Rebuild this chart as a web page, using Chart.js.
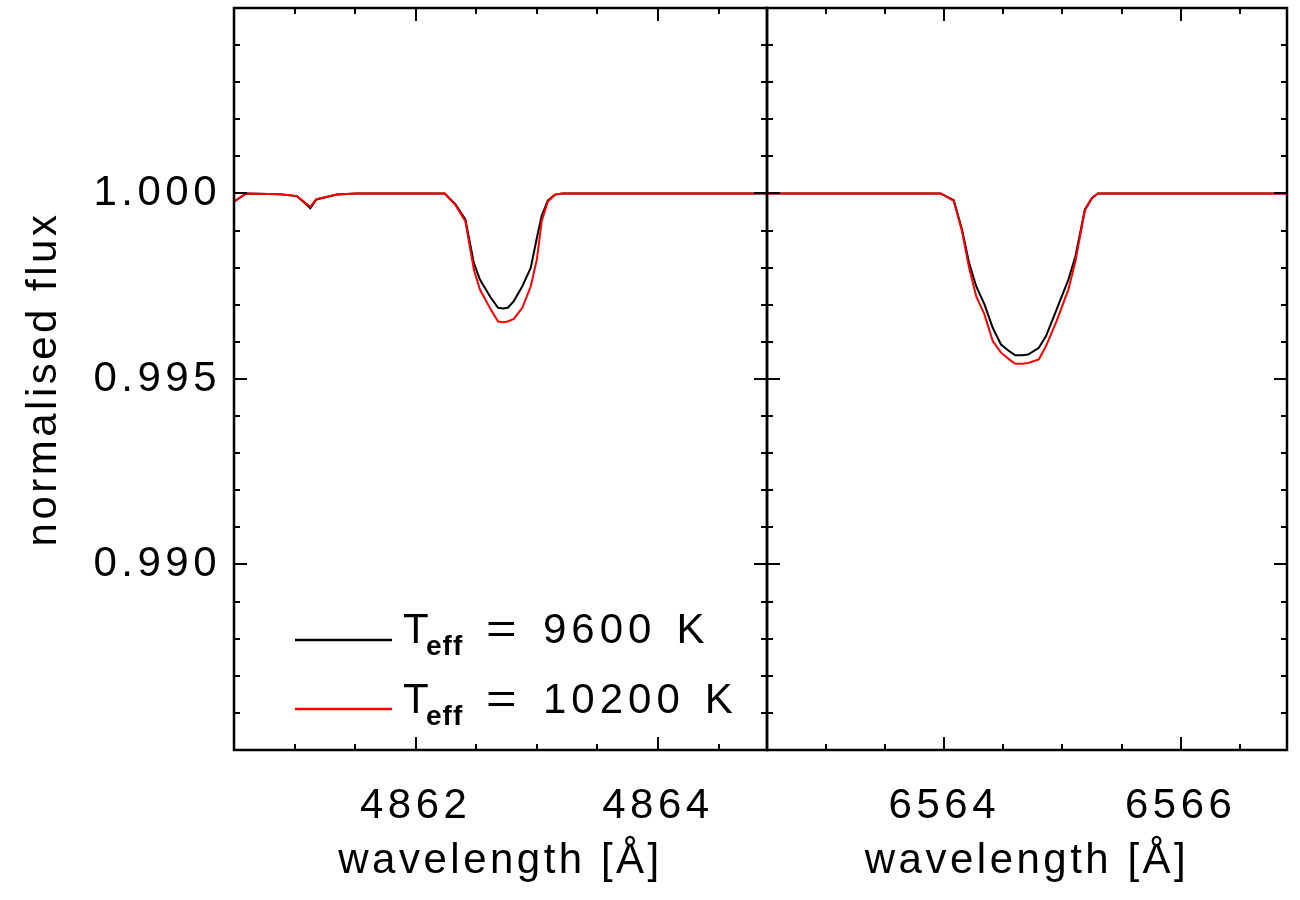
<!DOCTYPE html>
<html>
<head>
<meta charset="utf-8">
<script src="https://cdn.jsdelivr.net/npm/chart.js@4.4.1/dist/chart.umd.min.js"></script>
<style>
html,body{margin:0;padding:0;background:#fff;width:1300px;height:900px;overflow:hidden}
canvas{position:absolute;top:0}
#c1{left:0}
#c2{left:700px}
</style>
</head>
<body>
<canvas id="c1" width="800" height="900"></canvas>
<canvas id="c2" width="600" height="900"></canvas>
<script>
// ---- data ----
const hbetaWave = [4860.50, 4860.60, 4860.88, 4861.02, 4861.13, 4861.18, 4861.35, 4861.51, 4862.24, 4862.33, 4862.41, 4862.48, 4862.53, 4862.62, 4862.68, 4862.72, 4862.76, 4862.81, 4862.88, 4862.95, 4863.00, 4863.04, 4863.09, 4863.15, 4863.21, 4864.90];
const hbetaFlux9600 = [0.99978, 1.00000, 0.99998, 0.99993, 0.99960, 0.99984, 0.99997, 1.00000, 1.00000, 0.99970, 0.99930, 0.99813, 0.99768, 0.99719, 0.99692, 0.99690, 0.99692, 0.99710, 0.99750, 0.99800, 0.99880, 0.99940, 0.99981, 0.99997, 1.00000, 1.00000];
const hbetaFlux10200 = [0.99978, 1.00000, 0.99998, 0.99993, 0.99964, 0.99985, 0.99997, 1.00000, 1.00000, 0.99968, 0.99925, 0.99795, 0.99741, 0.99687, 0.99655, 0.99653, 0.99655, 0.99662, 0.99692, 0.99750, 0.99822, 0.99925, 0.99978, 0.99997, 1.00000, 1.00000];

const halphaWave = [6562.50, 6563.97, 6564.08, 6564.15, 6564.21, 6564.27, 6564.34, 6564.41, 6564.48, 6564.55, 6564.60, 6564.66, 6564.71, 6564.80, 6564.86, 6564.95, 6565.05, 6565.11, 6565.19, 6565.25, 6565.30, 6566.90];
const halphaFlux9600 = [1.00000, 1.00000, 0.99982, 0.99903, 0.99813, 0.99750, 0.99701, 0.99638, 0.99593, 0.99575, 0.99564, 0.99564, 0.99566, 0.99584, 0.99615, 0.99687, 0.99768, 0.99831, 0.99957, 0.99988, 1.00000, 1.00000];
const halphaFlux10200 = [1.00000, 1.00000, 0.99980, 0.99898, 0.99800, 0.99723, 0.99674, 0.99602, 0.99571, 0.99553, 0.99541, 0.99541, 0.99543, 0.99553, 0.99588, 0.99656, 0.99741, 0.99818, 0.99955, 0.99988, 1.00000, 1.00000];

const hbetaRange = [4860.5, 4864.9];
const halphaRange = [6562.5, 6566.9];
const hbetaTickLabels = [4862, 4864];
const halphaTickLabels = [6564, 6566];
const fluxRange = [0.985, 1.005];
const fluxTickLabels = [0.990, 0.995, 1.000];
const teffLabels = ['9600', '10200'];
const seriesColors = ['#000000', '#ff0000'];
const xTitle = 'wavelength [Å]';
const yTitle = 'normalised flux';

// ---- style ----
const FONT = "'Liberation Sans', Arial, sans-serif";
Chart.defaults.font.family = FONT;
Chart.defaults.color = '#000';

const framePlugin = {
  id: 'frame',
  beforeDraw(chart) { chart.ctx.letterSpacing = '3.5px'; },
  afterDatasetsDraw(chart) { chart.ctx.letterSpacing = '4.5px'; },
  afterDraw(chart, args, opts) {
    const {ctx, chartArea: a, scales} = chart;
    const x = scales.x, y = scales.y;
    ctx.save();
    ctx.letterSpacing = '0px';
    ctx.strokeStyle = '#000';
    ctx.lineWidth = 2;
    ctx.lineCap = 'butt';
    ctx.beginPath();
    const MAJ = 13, MIN = 6;
    for (let k = Math.ceil(x.min * 2 - 1e-6); k <= Math.floor(x.max * 2 + 1e-6); k++) {
      const px = Math.round(x.getPixelForValue(k / 2));
      const len = (k % 4 === 0) ? MAJ : MIN;
      ctx.moveTo(px, a.bottom); ctx.lineTo(px, a.bottom - len);
      ctx.moveTo(px, a.top); ctx.lineTo(px, a.top + len);
    }
    for (let k = Math.ceil(y.min * 1000 - 1e-6); k <= Math.floor(y.max * 1000 + 1e-6); k++) {
      const py = Math.round(y.getPixelForValue(k / 1000));
      const len = (k % 5 === 0) ? MAJ : MIN;
      ctx.moveTo(a.left, py); ctx.lineTo(a.left + len, py);
      ctx.moveTo(a.right, py); ctx.lineTo(a.right - len, py);
    }
    ctx.stroke();
    ctx.lineWidth = 2.5;
    ctx.strokeRect(a.left, a.top, a.right - a.left, a.bottom - a.top);

    if (opts.legend) {
      const rows = [{y: 640, base: 643}, {y: 709, base: 713}];
      rows.forEach((r, i) => {
        ctx.strokeStyle = seriesColors[i];
        ctx.lineWidth = 2.5;
        ctx.beginPath();
        ctx.moveTo(295, r.y); ctx.lineTo(392, r.y);
        ctx.stroke();
        ctx.fillStyle = '#000';
        ctx.textAlign = 'left';
        ctx.textBaseline = 'alphabetic';
        ctx.letterSpacing = '0px';
        ctx.font = '42px ' + FONT;
        ctx.fillText('T', 403, r.base);
        ctx.font = 'bold 28px ' + FONT;
        ctx.letterSpacing = '1px';
        ctx.fillText('eff', 426, r.base + 12);
        ctx.font = '42px ' + FONT;
        ctx.letterSpacing = '0px';
        ctx.save();
        ctx.translate(486, r.base);
        ctx.scale(1.25, 1);
        ctx.fillText('=', 0, 0);
        ctx.restore();
        ctx.letterSpacing = '5px';
        ctx.fillText(teffLabels[i], 543, r.base);
        const w = ctx.measureText(teffLabels[i]).width;
        ctx.fillText('K', 543 + w + 20, r.base);
      });
    }
    ctx.restore();
  }
};

function makeChart(id, waves, fluxA, fluxB, range, tickVals, isLeft) {
  const yScale = isLeft ? {
    type: 'linear', min: fluxRange[0], max: fluxRange[1],
    afterBuildTicks: s => { s.ticks = fluxTickLabels.map(v => ({value: v})); },
    afterFit: s => { s.width = 234; s.paddingTop = 0; s.paddingBottom = 0; },
    grid: {display: false, drawTicks: false},
    border: {display: false},
    ticks: {callback: v => Number(v).toFixed(3), font: {size: 42}, padding: 13, z: 1, autoSkip: false},
    title: {display: true, text: yTitle, font: {size: 42}, padding: {top: 19, bottom: 0}}
  } : {
    type: 'linear', min: fluxRange[0], max: fluxRange[1], display: false
  };
  return new Chart(document.getElementById(id), {
    type: 'line',
    data: {
      datasets: [
        {label: 'Teff = ' + teffLabels[1] + ' K', data: waves.map((w, i) => ({x: w, y: fluxB[i]})),
         borderColor: seriesColors[1], borderWidth: 2, pointRadius: 0, tension: 0, fill: false},
        {label: 'Teff = ' + teffLabels[0] + ' K', data: waves.map((w, i) => ({x: w, y: fluxA[i]})),
         borderColor: seriesColors[0], borderWidth: 2, pointRadius: 0, tension: 0, fill: false}
      ]
    },
    options: {
      responsive: false, animation: false, devicePixelRatio: 1,
      layout: {padding: isLeft ? {left: 0, right: 33, top: 8, bottom: 0} : {left: 67, right: 13, top: 8, bottom: 0}},
      plugins: {legend: {display: false}, tooltip: {enabled: false}, frame: {legend: isLeft}},
      scales: {
        x: {
          type: 'linear', min: range[0], max: range[1],
          afterBuildTicks: s => { s.ticks = tickVals.map(v => ({value: v})); },
          afterFit: s => { s.height = 150; s.paddingLeft = 0; s.paddingRight = 0; },
          grid: {display: false, drawTicks: false},
          border: {display: false},
          ticks: {callback: v => String(v), font: {size: 42}, padding: 31, maxRotation: 0, autoSkip: false, z: 1},
          title: {display: true, text: xTitle, font: {size: 42}, padding: {top: 0, bottom: 13}}
        },
        y: yScale
      }
    },
    plugins: [framePlugin]
  });
}

makeChart('c1', hbetaWave, hbetaFlux9600, hbetaFlux10200, hbetaRange, hbetaTickLabels, true);
makeChart('c2', halphaWave, halphaFlux9600, halphaFlux10200, halphaRange, halphaTickLabels, false);
</script>
</body>
</html>
